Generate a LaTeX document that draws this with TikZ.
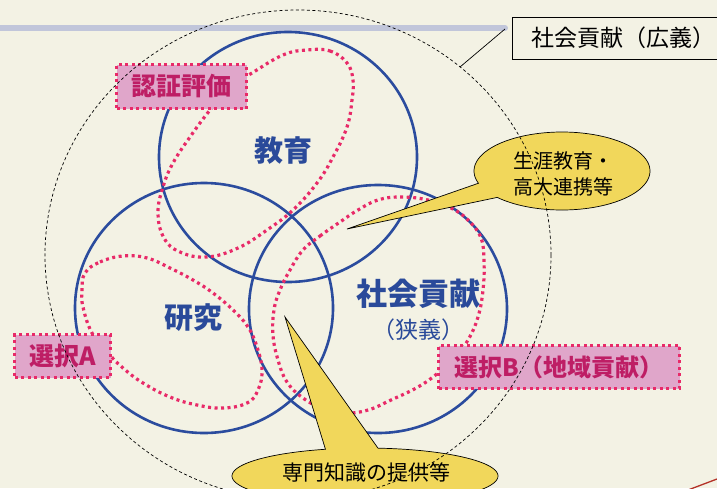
\documentclass[tikz,border=0pt]{standalone}
\usepackage{fontspec}
\newfontfamily\jp{Noto Sans CJK JP}
\definecolor{bgc}{HTML}{F3F2E4}
\definecolor{ringblue}{HTML}{2B4C9E}
\definecolor{labelblue}{HTML}{2A4A9A}
\definecolor{dotpink}{HTML}{E82A68}
\definecolor{tagfill}{HTML}{E0A6CA}
\definecolor{tagtext}{HTML}{BE1E65}
\definecolor{callyellow}{HTML}{F1D75B}
\definecolor{strokeblue}{HTML}{98A3D3}
\definecolor{cornerred}{HTML}{B43228}
\begin{document}
\begin{tikzpicture}[x=1pt,y=-1pt,
  bluering/.style={draw=ringblue, line width=2.6pt},
  pinkdots/.style={draw=dotpink, line width=3.2pt, dash pattern=on 3pt off 3.5pt},
  bluelabel/.style={text=labelblue, font=\jp\bfseries\fontsize{29}{32}\selectfont, inner sep=0pt},
  tagbox/.style={fill=tagfill, draw=dotpink, line width=3.2pt, dash pattern=on 3pt off 3.5pt,
    text=tagtext, font=\jp\bfseries\fontsize{25}{28}\selectfont, inner sep=0pt},
  callout/.style={fill=callyellow, draw=black, line width=0.7pt},
  calltext/.style={text=black, font=\jp\fontsize{20}{26}\selectfont, align=center, inner sep=0pt},
  bigdash/.style={draw=black, line width=0.7pt, dash pattern=on 3pt off 2.5pt}
]
\clip (0,0) rectangle (717,488);
\fill[bgc] (0,0) rectangle (717,488);
% faint blue stroke at the top
\draw[strokeblue, opacity=0.55, line width=6pt, line cap=round] (-5,28) -- (505,28);
\draw[cornerred, line width=1.3pt] (688,490) -- (717,479);

% three blue rings
\draw[bluering] (288,157) ellipse [x radius=129, y radius=125];
\draw[bluering] (204,308) ellipse [x radius=129, y radius=125];
\draw[bluering] (378,309) ellipse [x radius=129, y radius=124];

% pink dotted regions
\draw[pinkdots] plot[smooth cycle, tension=0.7] coordinates {
  (307,50) (330,51) (347,63) (353,80) (352,100) (347,127) (333,157) (317,183)
  (293,210) (267,230) (238,248) (207,257) (180,252) (164,238) (158,213)
  (163,187) (173,163) (190,137) (210,110) (230,87) (252,73) (283,55)};
\draw[pinkdots] plot[smooth cycle, tension=0.7] coordinates {
  (85,273) (100,262) (123,256) (147,258) (170,268) (193,280) (213,293) (233,310)
  (248,327) (257,347) (262,370) (258,390) (247,403) (223,408) (197,405)
  (170,397) (143,383) (123,368) (108,353) (92,333) (83,307) (82,290)};
\draw[pinkdots] plot[smooth cycle, tension=0.7] coordinates {
  (303,250) (320,236) (340,222) (358,210) (378,200) (401,197) (428,200) (451,208)
  (468,220) (481,238) (484,262) (483,290) (478,317) (468,340) (455,357)
  (438,373) (418,387) (391,400) (368,410) (345,413) (322,408) (303,398)
  (287,382) (278,360) (273,335) (274,310) (280,290) (290,270)};

% blue labels
\node[bluelabel] (kyoiku) at (283,151) {教育};
\node[bluelabel] (kenkyu) at (193,318) {研究};
\node[bluelabel, font=\jp\bfseries\fontsize{31}{34}\selectfont] (shakai) at (418,294) {社会貢献};
\node[text=labelblue, font=\jp\fontsize{23}{26}\selectfont, inner sep=0pt] (kyogi) at (418,330) {（狭義）};

% yellow callouts
\filldraw[callout] plot[domain=161.7:497.4, samples=120] ({562+88*cos(\x)},{171+39*sin(\x)}) -- (347,229) -- cycle;
\node[calltext] (shogai) at (563,174) {生涯教育・\\高大連携等};
\filldraw[callout] plot[domain=275.6:612.7, samples=140] ({365+133*cos(\x)},{476+28*sin(\x)}) -- (285,317) -- cycle;
\node[calltext, font=\jp\fontsize{21}{26}\selectfont] (senmon) at (366,473) {専門知識の提供等};

% pink tag boxes
\node[tagbox, minimum width=130pt, minimum height=44pt] (ninsho) at (181.5,86.5) {認証評価};
\node[tagbox, minimum width=96pt, minimum height=43pt] (sentakuA) at (62.5,356) {選択A};
\node[tagbox, minimum width=241pt, minimum height=43pt, font=\jp\bfseries\fontsize{24}{27}\selectfont] (sentakuB) at (559,367) {選択B（地域貢献）};

% broad social contribution box and leader
\draw[black, line width=0.8pt] (512,17) rectangle (740,59);
\node[anchor=west, inner sep=0pt, text=black, font=\jp\fontsize{23}{26}\selectfont] (koki) at (531,38) {社会貢献（広義）};
\coordinate (leadA) at (505,29);
\coordinate (leadB) at (460,67);
\draw[black, line width=0.7pt] (leadA) -- (leadB);

% dashed outer circle
\draw[bigdash] (298,255) ellipse [x radius=253, y radius=245];
\end{tikzpicture}
\end{document}
